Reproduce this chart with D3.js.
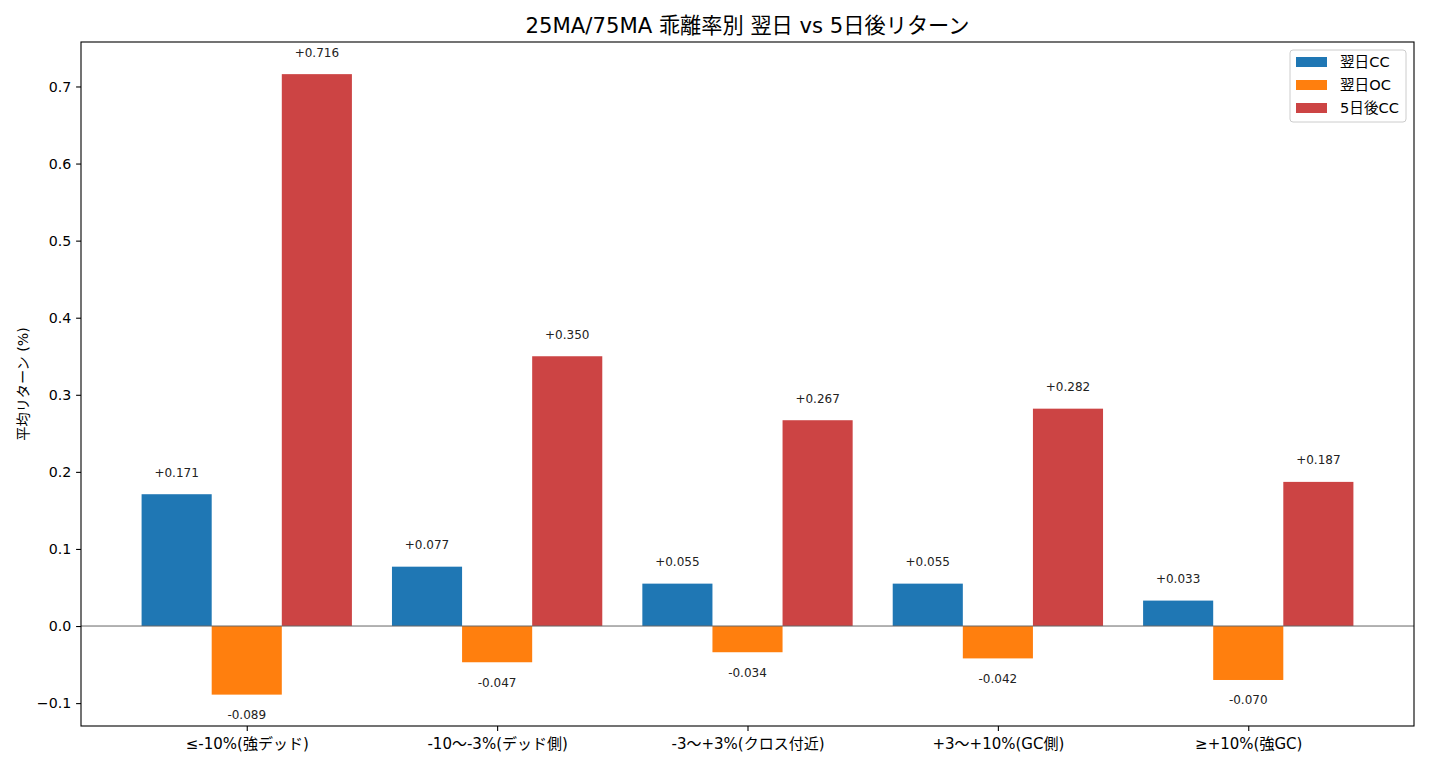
<!DOCTYPE html>
<html><head><meta charset="utf-8">
<script src="https://cdn.jsdelivr.net/npm/d3@7"></script>
<style>
html,body{margin:0;padding:0;background:#fff;}
text{font-family:"DejaVu Sans","Noto Sans CJK JP",sans-serif;}
</style></head>
<body><svg id="c" width="1430" height="770"></svg>
<script>
const categories = ["≤-10%(強デッド)", "-10〜-3%(デッド側)", "-3〜+3%(クロス付近)", "+3〜+10%(GC側)", "≥+10%(強GC)"];
const seriesNames = ["翌日CC", "翌日OC", "5日後CC"];
const nextCC = [0.171, 0.077, 0.055, 0.055, 0.033];
const nextOC = [-0.089, -0.047, -0.034, -0.042, -0.070];
const fiveCC = [0.716, 0.350, 0.267, 0.282, 0.187];
const yTicks = [-0.1, 0.0, 0.1, 0.2, 0.3, 0.4, 0.5, 0.6, 0.7];
const colors = ["#1f77b4", "#ff7f0e", "#cc4444"];
const title = "25MA/75MA 乖離率別 翌日 vs 5日後リターン";
const yLabel = "平均リターン (%)";

const series = [nextCC, nextOC, fiveCC];
const svg = d3.select("#c");
const L = 81, R = 1414, T = 42, B = 726;
const barW = 0.28;
const x = d3.scaleLinear().domain([-0.662, categories.length - 1 + 0.662]).range([L, R]);
const y = d3.scaleLinear().domain([-0.1297, 0.7577]).range([B, T]);

// bars
series.forEach((vals, s) => {
  const off = (s - 1) * barW;
  svg.append("g").selectAll("rect").data(vals).enter().append("rect")
    .attr("x", (d, i) => x(i + off - barW / 2))
    .attr("width", (d, i) => x(i + off + barW / 2) - x(i + off - barW / 2))
    .attr("y", d => Math.min(y(d), y(0)))
    .attr("height", d => Math.abs(y(d) - y(0)))
    .attr("fill", colors[s]);
  svg.append("g").selectAll("text").data(vals).enter().append("text")
    .attr("x", (d, i) => x(i + off))
    .attr("y", d => d >= 0 ? y(d + 0.02) - 2 : y(d - 0.02) + 9)
    .attr("text-anchor", "middle")
    .attr("font-size", "12px")
    .attr("fill", "#222")
    .text(d => (d >= 0 ? "+" : "") + d.toFixed(3));
});

// zero line
svg.append("line").attr("x1", L).attr("x2", R).attr("y1", y(0)).attr("y2", y(0))
  .attr("stroke", "#666").attr("stroke-width", 1);

// axes
const yAxis = d3.axisLeft(y).tickValues(yTicks).tickSize(4.9).tickPadding(4.9)
  .tickFormat(d => d3.format(".1f")(d).replace("-", "\u2212"));
const gy = svg.append("g").attr("transform", `translate(${L},0)`).call(yAxis);
gy.select(".domain").remove();
gy.selectAll("text").attr("font-size", "14.2px").attr("fill", "#000");
gy.selectAll("line").attr("stroke", "#000").attr("stroke-width", 1.1);

const xAxis = d3.axisBottom(x).tickValues(d3.range(categories.length)).tickSize(4.9).tickPadding(4.9)
  .tickFormat(i => categories[i]);
const gx = svg.append("g").attr("transform", `translate(0,${B})`).call(xAxis);
gx.select(".domain").remove();
gx.selectAll("text").attr("font-size", "15px").attr("fill", "#000").attr("dy", "0.85em");
gx.selectAll("line").attr("stroke", "#000").attr("stroke-width", 1.1);

// frame
svg.append("rect").attr("x", L).attr("y", T).attr("width", R - L).attr("height", B - T)
  .attr("fill", "none").attr("stroke", "#000").attr("stroke-width", 1.1);

// title
svg.append("text").attr("x", (L + R) / 2).attr("y", 33).attr("text-anchor", "middle")
  .attr("font-size", "21.2px").attr("fill", "#000").text(title);

// y label
svg.append("text").attr("transform", `translate(28,${(T + B) / 2}) rotate(-90)`)
  .attr("text-anchor", "middle").attr("font-size", "14.2px").attr("fill", "#000").text(yLabel);

// legend
const lg = svg.append("g");
lg.append("rect").attr("x", 1290).attr("y", 50).attr("width", 116).attr("height", 72)
  .attr("rx", 3).attr("fill", "#fff").attr("fill-opacity", 0.8).attr("stroke", "#ccc").attr("stroke-width", 1);
seriesNames.forEach((n, i) => {
  const cy = 62 + i * 23;
  lg.append("rect").attr("x", 1296).attr("y", cy - 5).attr("width", 31).attr("height", 10).attr("fill", colors[i]);
  lg.append("text").attr("x", 1340).attr("y", cy).attr("dy", "0.35em")
    .attr("font-size", "14.6px").attr("fill", "#000").text(n);
});
</script></body></html>
